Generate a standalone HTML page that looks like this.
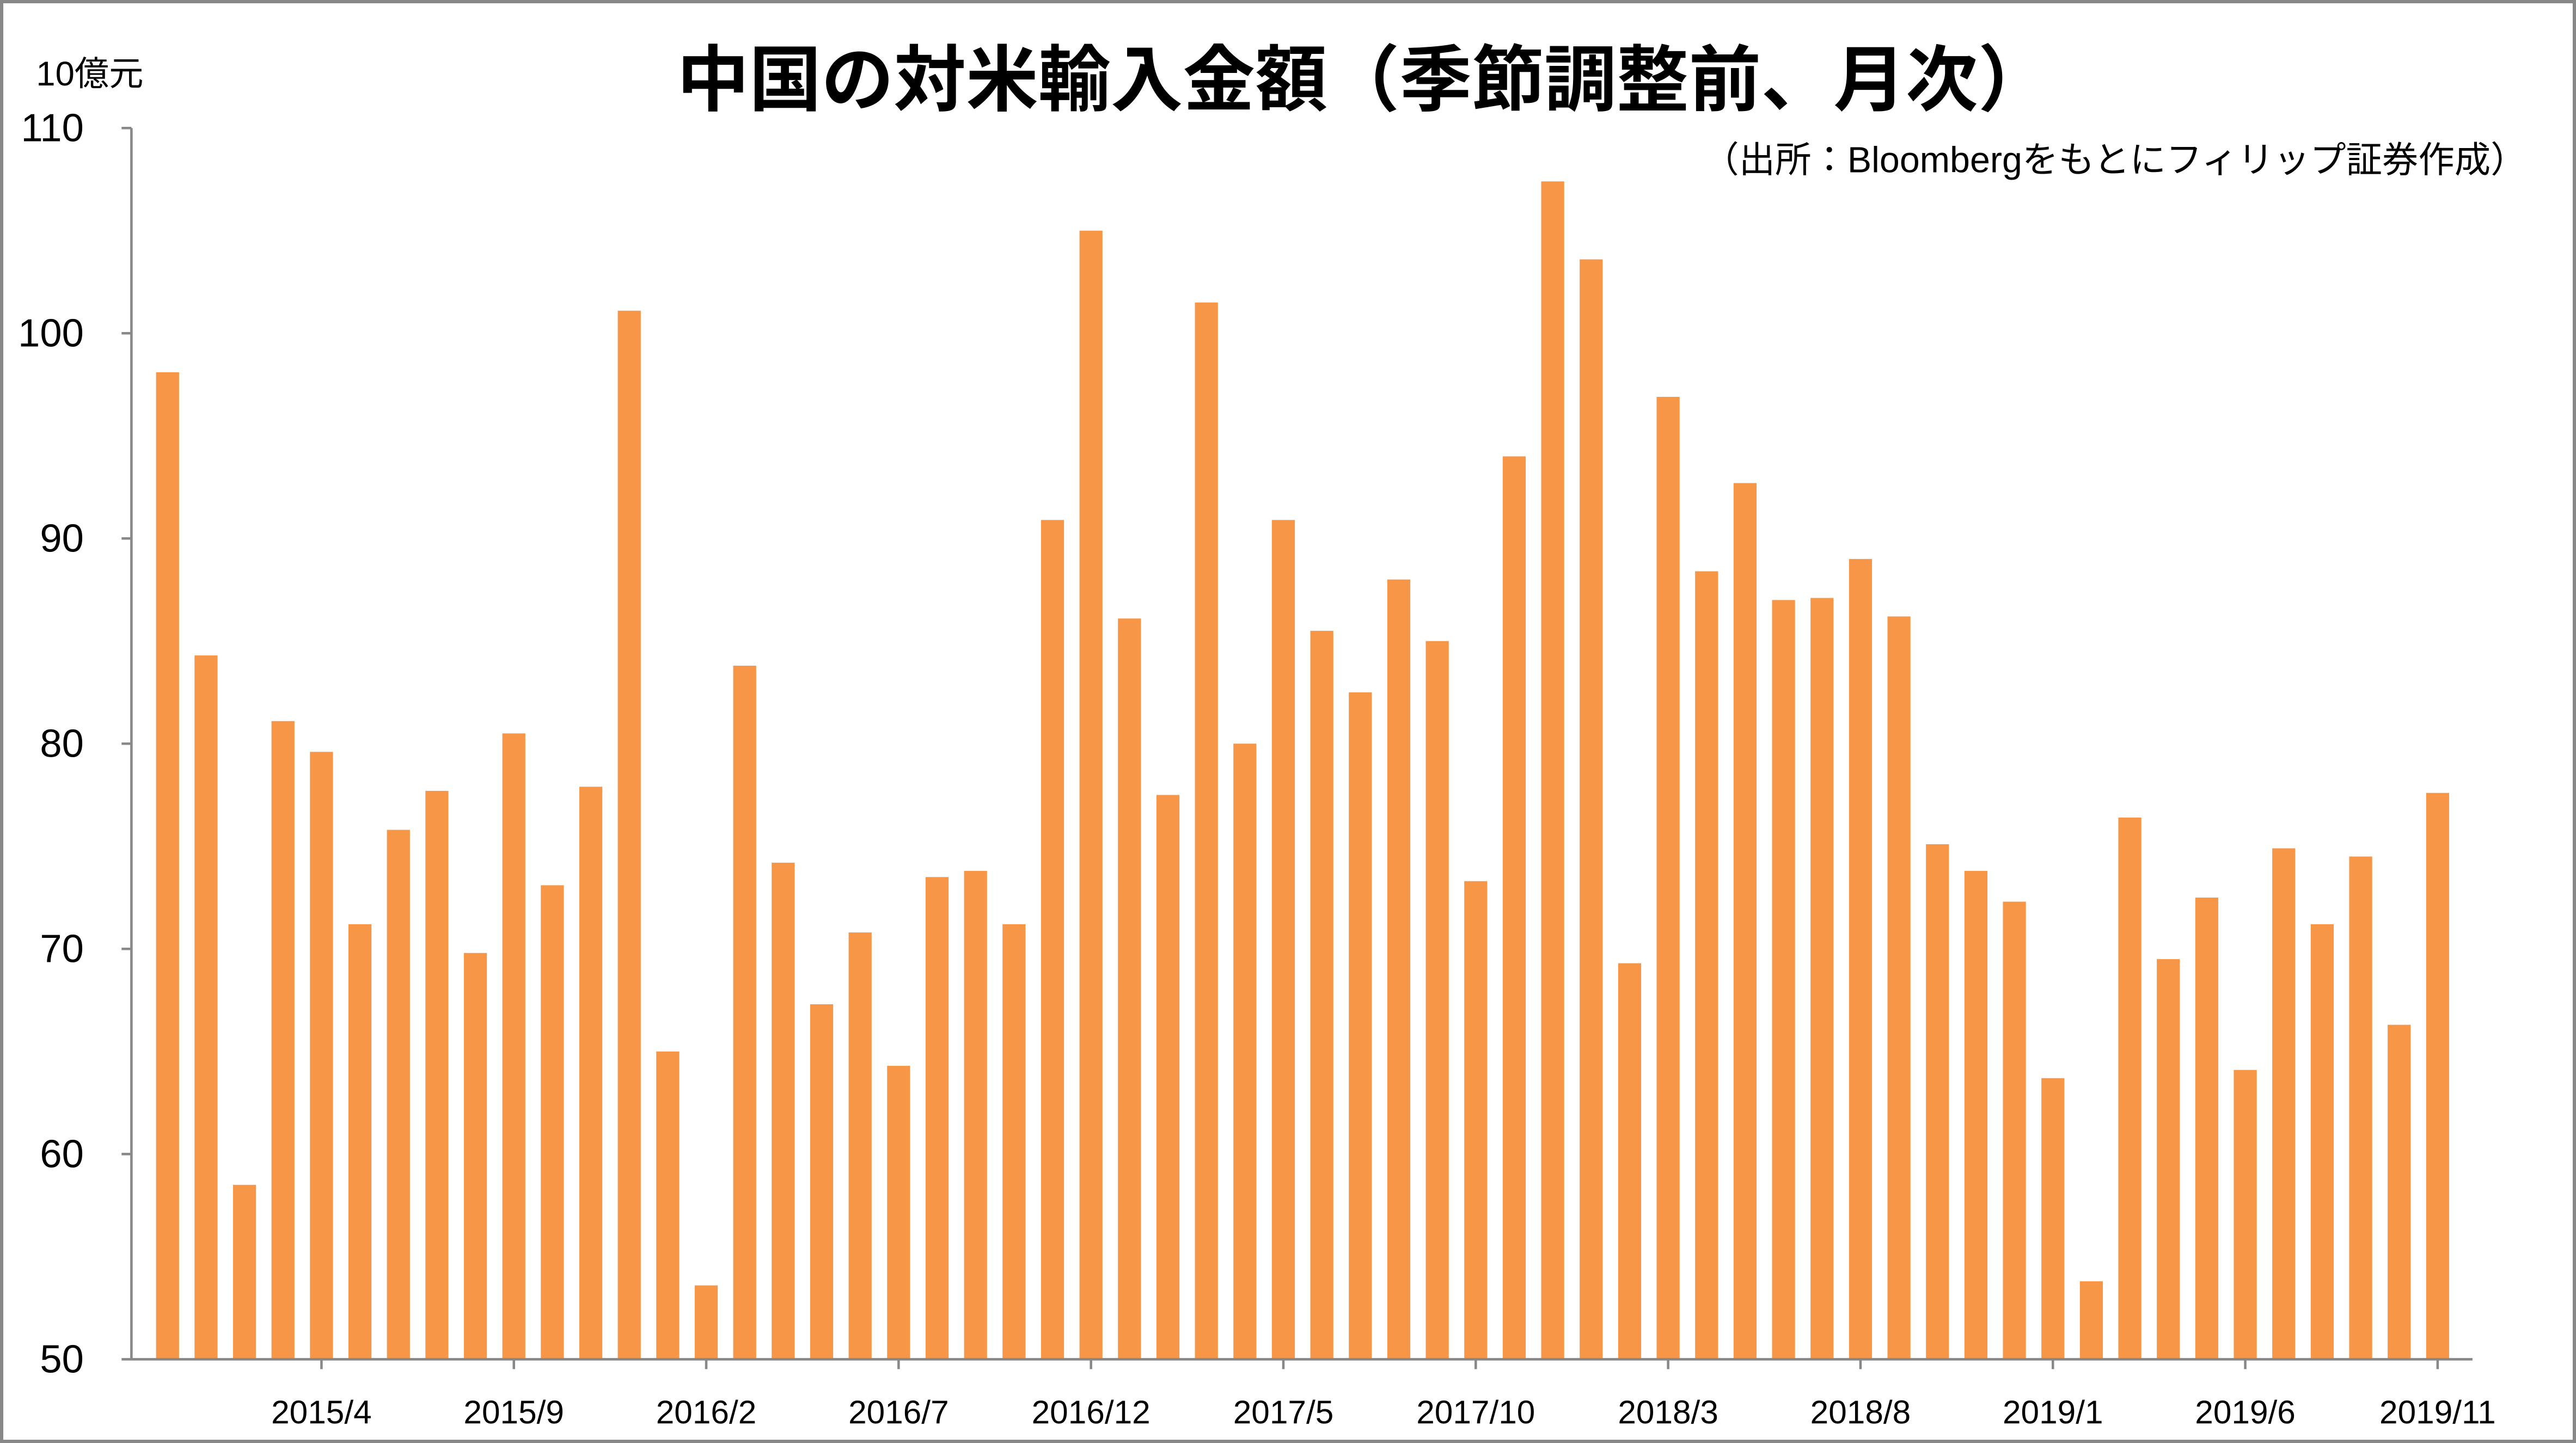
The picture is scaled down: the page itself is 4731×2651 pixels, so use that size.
<!DOCTYPE html>
<html><head><meta charset="utf-8"><style>
html,body{margin:0;padding:0;background:#fff;}
svg{display:block;font-family:"Liberation Sans","Noto Sans CJK JP",sans-serif;}
</style></head><body>
<svg id="chart" width="4731" height="2651" viewBox="0 0 1568 879" preserveAspectRatio="none" xmlns="http://www.w3.org/2000/svg">
<rect x="1" y="1" width="1566" height="877" fill="#fff" stroke="#888" stroke-width="2"/>
<text x="830" y="64" text-anchor="middle" font-size="44" font-weight="bold" fill="#000">中国の対米輸入金額（季節調整前、月次）</text>
<text x="22" y="52" font-size="21" fill="#000">10億元</text>
<text x="1538" y="105" text-anchor="end" font-size="22" fill="#000">（出所：Bloombergをもとにフィリップ証券作成）</text>
<g id="grid"></g>
<g id="bars"></g>
<g id="axes"></g>
</svg>
<script>
const categories = [];
(function(){let y=2014,m=12;for(let i=0;i<60;i++){categories.push(y+'/'+m);m++;if(m>12){m=1;y++;}}})();
const values = [98.1,84.3,58.5,81.1,79.6,71.2,75.8,77.7,69.8,80.5,73.1,77.9,101.1,65.0,53.6,83.8,74.2,67.3,70.8,64.3,73.5,73.8,71.2,90.9,105.0,86.1,77.5,101.5,80.0,90.9,85.5,82.5,88.0,85.0,73.3,94.0,107.4,103.6,69.3,96.9,88.4,92.7,87.0,87.1,89.0,86.2,75.1,73.8,72.3,63.7,53.8,76.4,69.5,72.5,64.1,74.9,71.2,74.5,66.3,77.6];
const yTicks = [50,60,70,80,90,100,110];
const xTickLabels = ['2015/4','2015/9','2016/2','2016/7','2016/12','2017/5','2017/10','2018/3','2018/8','2019/1','2019/6','2019/11'];

const NS='http://www.w3.org/2000/svg';
const x0=80,x1=1505,yTop=78,yBot=828,vMin=50,vMax=110;
const step=23.42, first=102, bw=14;
function yScale(v){return yBot-(v-vMin)/(vMax-vMin)*(yBot-yTop);}
function xScale(i){return first+i*step;}
function mk(tag,attrs,parent){const e=document.createElementNS(NS,tag);for(const k in attrs)e.setAttribute(k,attrs[k]);parent.appendChild(e);return e;}
const barsG=document.getElementById('bars'),axesG=document.getElementById('axes');
values.forEach((v,i)=>{
  const r=mk('rect',{x:xScale(i)-bw/2,y:yScale(v),width:bw,height:yBot-yScale(v),fill:'#F79646'},barsG);
  
  
});
const ya=mk('line',{x1:x0,y1:yTop,x2:x0,y2:yBot,stroke:'#888','stroke-width':1.5},axesG);


const xa=mk('line',{x1:x0,y1:yBot,x2:x1,y2:yBot,stroke:'#888','stroke-width':1.5},axesG);


yTicks.forEach(t=>{
  const y=yScale(t);
  mk('line',{x1:x0-6,y1:y,x2:x0,y2:y,stroke:'#888','stroke-width':1.5},axesG);
  const tx=mk('text',{x:51,y:y+8,'text-anchor':'end','font-size':24,fill:'#000'},axesG);
  tx.textContent=t;
  
  
});
xTickLabels.forEach(lbl=>{
  const i=categories.indexOf(lbl);
  const x=xScale(i);
  mk('line',{x1:x,y1:yBot,x2:x,y2:yBot+6,stroke:'#888','stroke-width':1.5},axesG);
  const tx=mk('text',{x:x,y:867,'text-anchor':'middle','font-size':20,fill:'#000'},axesG);
  tx.textContent=lbl;
  
  
});
</script>
</body></html>
